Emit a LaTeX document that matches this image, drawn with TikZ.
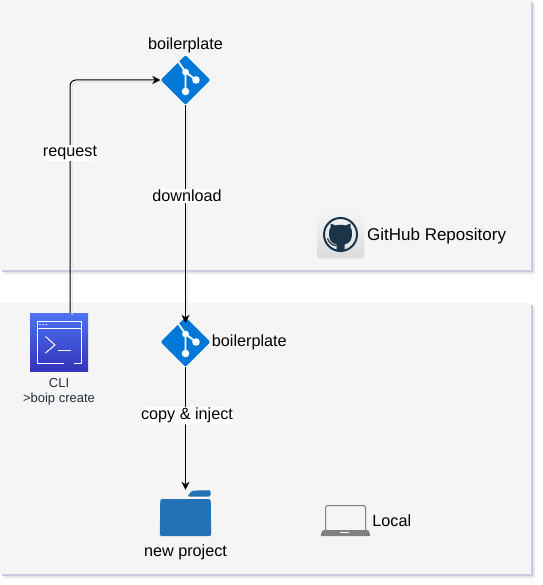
\documentclass[tikz,border=0pt]{standalone}
\usepackage{fontspec}
\setmainfont{Liberation Sans}
\usepackage{tikz}
\usetikzlibrary{positioning}
\usetikzlibrary{arrows.meta}
\usetikzlibrary{shapes.geometric,shadows}
\definecolor{panelgray}{HTML}{F5F5F5}
\definecolor{panelshadow}{HTML}{C9CCDE}
\definecolor{panelshadowsoft}{HTML}{E6E8F0}
\definecolor{gitblue}{HTML}{0078D7}
\definecolor{folderblue}{HTML}{2372B5}
\definecolor{inkdark}{HTML}{232F3E}
\definecolor{catdark}{HTML}{1B3447}
\definecolor{clitop}{HTML}{4D72F3}
\definecolor{clibottom}{HTML}{3334B9}
\tikzset{panel node/.style={rectangle,fill=panelgray,minimum width=531pt,inner sep=0pt,
    drop shadow={shadow xshift=3.5pt,shadow yshift=-3.5pt,fill=panelshadowsoft,opacity=1},
    drop shadow={shadow xshift=1.8pt,shadow yshift=-1.8pt,fill=panelshadow,opacity=1}},
  git node/.style={diamond,fill=gitblue,rounded corners=2pt,minimum width=50pt,minimum height=50pt,inner sep=0pt},
  cap node/.style={font=\fontsize{16.2}{18}\selectfont,inner sep=0pt},
  wire label/.style={font=\fontsize{16.2}{18}\selectfont,fill=white,inner xsep=0.5pt,inner ysep=1pt,yshift=-2pt},
  wire/.style={line width=1pt,rounded corners=6pt},
  wire shadow/.style={line width=1pt,rounded corners=6pt,draw=panelshadow!60,transform canvas={xshift=2pt,yshift=-2pt}},
  git mark/.pic={
    \draw[white,line width=1.8pt] (-7,-18) -- (0,-8) -- (0,11.5) (0,-8) -- (10.5,0);
    \fill[white] (0,-8) circle (3.4) (10.5,0) circle (3.8) (0,11.5) circle (3.8);
  }}

\begin{document}
\begin{tikzpicture}[x=1pt,y=-1pt,>={Stealth[length=8pt,width=8pt,inset=2.5pt]}]
    \useasboundingbox (0,0) rectangle (542,585);
    % panels
    \node[panel node, minimum height=270pt] (github) at (265.5,135) {};
    \node[panel node, minimum height=271pt] (local) at (265.5,438.5) {};

    % icons
    \node[git node] (gittop) at (185.5,80) {};
    \node[git node] (gitlocal) at (185.5,342) {};
    \pic at (gittop) {git mark};
    \pic at (gitlocal) {git mark};
    \node[rectangle,minimum size=58pt,inner sep=0pt,top color=clitop,bottom color=clibottom] (cli) at (59,342) {};
    \begin{scope}[shift={(cli.center)},white,line width=1pt]
        \draw (4.5,21) -- (-22,21) -- (-22,-21) -- (22,-21) -- (22,21) -- (15,21);
        \draw (-22,-14) -- (22,-14);
        \draw (-13.5,-5.5) -- (-4,3) -- (-13.5,11);
        \draw (-1.5,8) -- (11.7,8);
        \fill (-19,-17.4) circle (0.8) (-16,-17.4) circle (0.8) (-13,-17.4) circle (0.8);
    \end{scope}
    \node[rectangle,minimum width=51pt,minimum height=46pt,inner sep=0pt] (folder) at (185.5,513) {};
    \fill[folderblue,rounded corners=1.5pt] (folder.south west) -- (160.3,499) -- (210.7,499) -- (folder.south east) -- cycle;
    \fill[folderblue,rounded corners=1.5pt] (187.3,496.5) -- (192,490.6) -- (210.7,490.2) -- (210.7,496.5) -- cycle;
    \node[rectangle,rounded corners=3pt,minimum size=47.5pt,inner sep=0pt,top color=panelgray,bottom color=black!14] (octo) at (340.5,234.5) {};
    \begin{scope}[shift={(octo.center)}]
        \draw[catdark,line width=2pt] (0,0) circle (16.5);
        \fill[catdark] (-4,15.5) -- (-4,10) .. controls (-10,9) and (-11.5,4) .. (-11.5,-1) .. controls (-11.5,-4) and (-11,-6) .. (-10,-7)
          -- (-10,-11) -- (-5,-9) .. controls (-2,-10) and (2,-10) .. (5,-9) -- (10,-11) -- (10,-7) .. controls (11,-6) and (11.5,-4) .. (11.5,-1)
          .. controls (11.5,4) and (10,9) .. (4,10) -- (4,15.5) -- cycle;
        \draw[catdark,line width=1.2pt] (-13,4) .. controls (-11,9) and (-8,11) .. (-4,11);
    \end{scope}
    \node[rectangle,minimum width=50pt,minimum height=31pt,inner sep=0pt] (laptop) at (345.5,520.5) {};
    \draw[gray,line width=1pt,rounded corners=1.5pt] (325.5,530.5) -- (325.5,505.7) -- (365.5,505.7) -- (365.5,530.5);
    \fill[gray,rounded corners=1.2pt] (laptop.south west) -- (322.5,530) -- (368.5,530) -- (laptop.south east) -- cycle;
    \fill[white] (340.3,532) rectangle (349.3,533.4);

    % captions
    \node[cap node] (bptop) [above=2pt of gittop] {boilerplate};
    \node[cap node] (bplocal) [right=1pt of gitlocal] {boilerplate};
    \node[cap node] (newproject) [below=8pt of folder] {new project};
    \node[cap node,font=\fontsize{17}{18}\selectfont,yshift=-2pt] (repo) [right=2.5pt of octo] {GitHub Repository};
    \node[cap node] (localtext) [right=1.5pt of laptop] {Local};
    \node[align=center,text=inkdark,font=\fontsize{13}{15}\selectfont,inner sep=0pt] (clitext) [below=7pt of cli] {CLI\\>boip create};

    % connectors
    \draw[wire shadow] ([xshift=11pt]cli.north) |- (gittop.west);
    \draw[wire shadow] (gittop.south) -- (gitlocal.north);
    \draw[wire,->] ([xshift=11pt]cli.north) |- (gittop.west) node[wire label,pos=0.3475] (request) {request};
    \draw[wire,->,shorten >=-6pt] (gittop.south) -- (gitlocal.north) node[wire label,pos=0.42,xshift=1.5pt] (download) {download};
    \draw[wire,->] (gitlocal.south) -- (folder.north) node[wire label,pos=0.38,xshift=1.5pt] (copyinject) {copy \& inject};
\end{tikzpicture}
\end{document}
